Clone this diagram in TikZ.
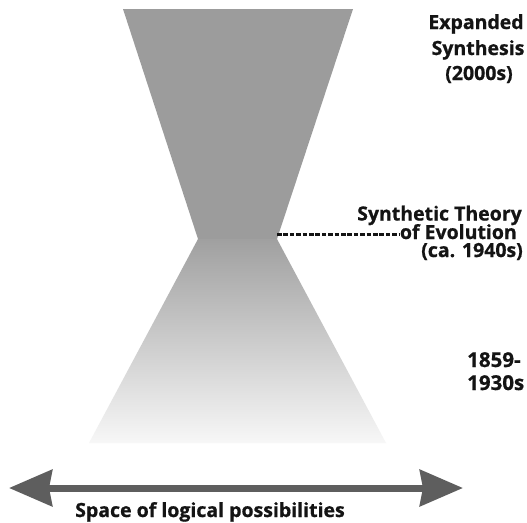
\documentclass[tikz,border=0pt]{standalone}
\usepackage{fontspec}
\setmainfont{Open Sans}[BoldFeatures={FakeBold=0.8}]
\usetikzlibrary{arrows.meta}
\definecolor{uppergray}{HTML}{9C9C9C}
\definecolor{lowtop}{HTML}{A0A0A0}
\definecolor{lowbot}{HTML}{F7F7F7}
\definecolor{arrowgray}{HTML}{5E5E5E}
\definecolor{txt}{HTML}{141414}
\tikzset{headtip/.tip={Stealth[length=43pt,width=36pt,inset=3pt]}}
\begin{document}
\begin{tikzpicture}[x=1pt,y=-1pt,
  lbl/.style={font=\fontsize{19.5}{24}\selectfont\bfseries, text=txt, inner sep=0pt},
  tightlbl/.style={lbl, text height=14pt, text depth=0pt},
  yearlbl/.style={font=\fontsize{20.5}{24}\selectfont\bfseries, text=txt, inner sep=0pt},
  dashlink/.style={draw=txt, line width=2.6pt, dash pattern=on 4.6pt off 1.8pt}]
\useasboundingbox (0,0) rectangle (527,522);
\fill[white] (0,0) rectangle (527,522);
% upper funnel
\fill[uppergray] (123,9) -- (353,9) -- (277,239) -- (198,239) -- cycle;
% lower funnel with fading
\shade[top color=lowtop, bottom color=lowbot] (198,239) -- (277,239) -- (386,443) -- (89,443) -- cycle;
% waist point
\coordinate (waist) at (277,234.5);
% labels
\node[lbl, anchor=base] (exp1) at (476,29) {Expanded};
\node[lbl, anchor=base] (exp2) at (478,55) {Synthesis};
\node[lbl, anchor=base] (exp3) at (479,80) {(2000s)};
\node[tightlbl, anchor=base east] (syn1) at (522,220.5) {Synthetic Theory};
\node[tightlbl, anchor=base east] (syn2) at (517,239) {of Evolution};
\node[tightlbl, anchor=base east] (syn3) at (523,257) {(ca. 1940s)};
\node[yearlbl, anchor=base west] (yr1) at (467,367) {1859-};
\node[yearlbl, anchor=base west] (yr2) at (467,390) {1930s};
\node[lbl, anchor=base] (space) at (210,517) {Space of logical possibilities};
% dashed link
\draw[dashlink] (waist) -- (syn2.west |- waist);
% double arrow
\coordinate (aL) at (9,488);
\coordinate (aR) at (463,488);
\draw[arrowgray, line width=7pt, headtip-headtip] (aL) -- (aR);
\end{tikzpicture}
\end{document}
